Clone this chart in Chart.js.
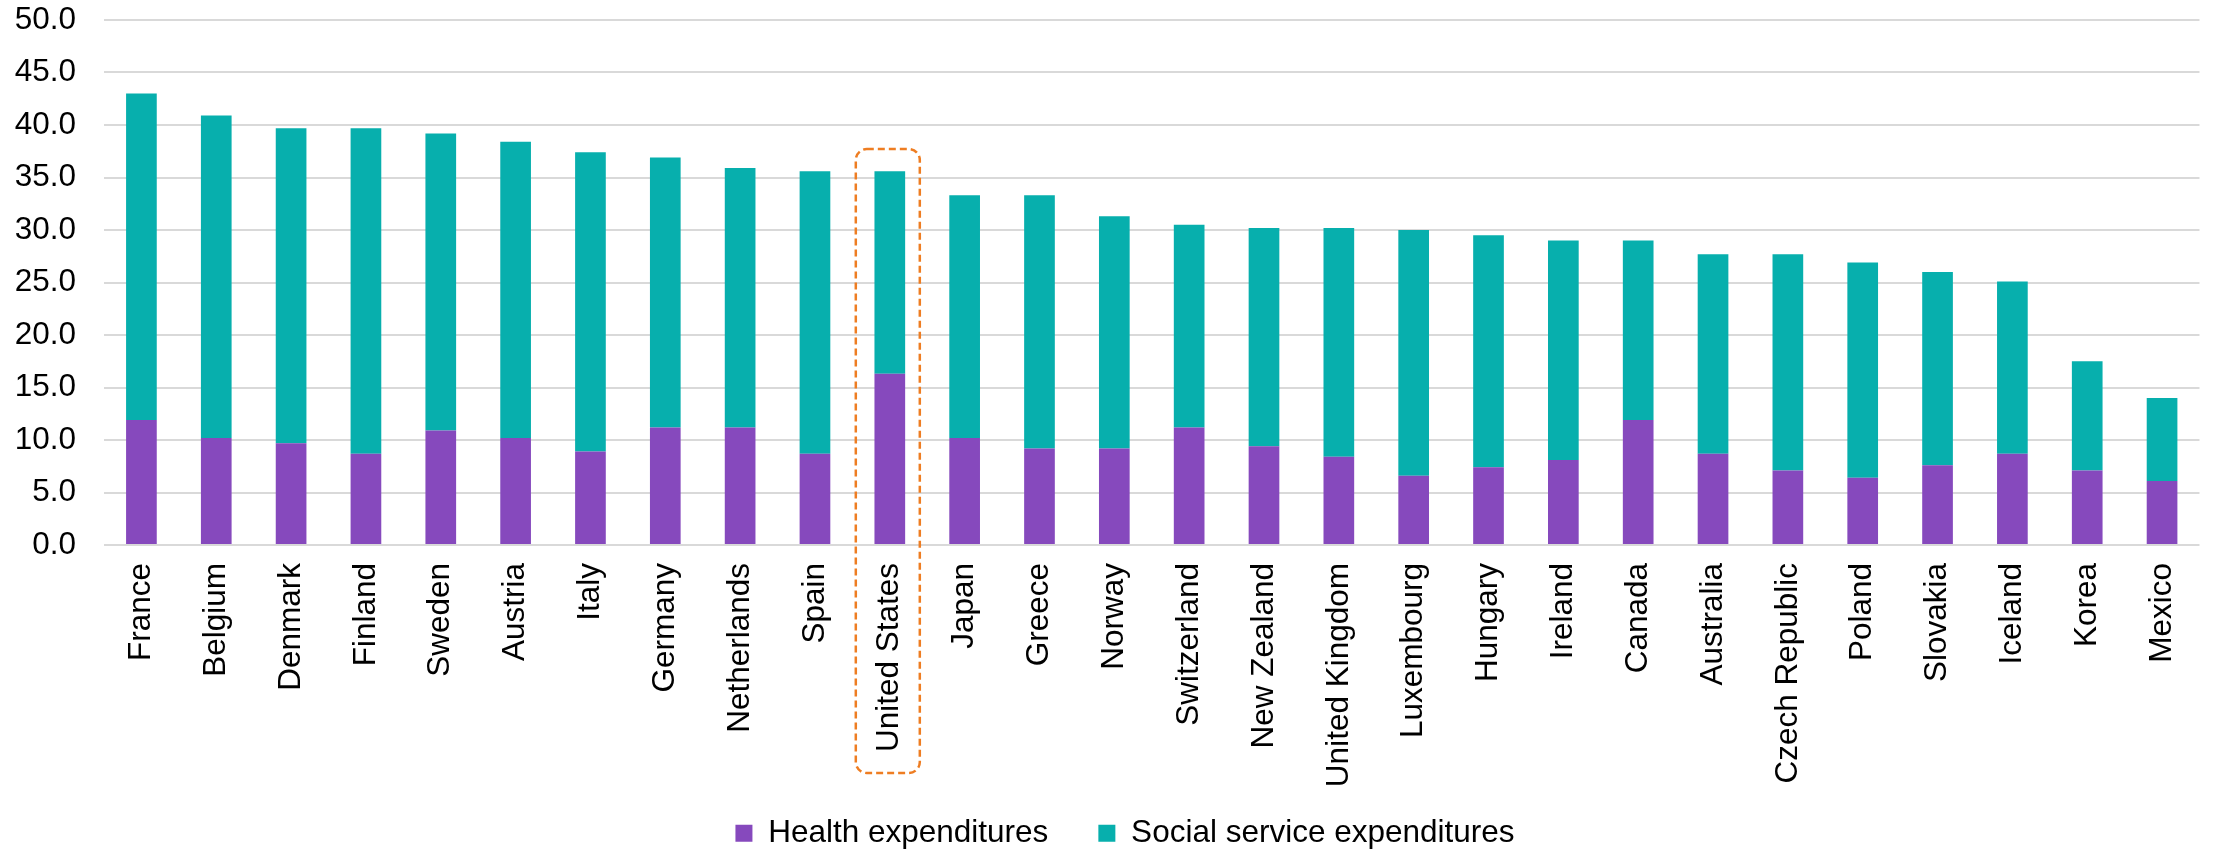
<!DOCTYPE html>
<html>
<head>
<meta charset="utf-8">
<script src="https://cdn.jsdelivr.net/npm/chart.js@4/dist/chart.umd.min.js"></script>
<style>
  html, body { margin: 0; padding: 0; background: #fff; overflow: hidden; }
  #wrap { width: 2218px; height: 853px; }
</style>
</head>
<body>
<div id="wrap"><canvas id="c" width="2218" height="853"></canvas></div>
<script>
const countries = ["France","Belgium","Denmark","Finland","Sweden","Austria","Italy","Germany","Netherlands","Spain","United States","Japan","Greece","Norway","Switzerland","New Zealand","United Kingdom","Luxembourg","Hungary","Ireland","Canada","Australia","Czech Republic","Poland","Slovakia","Iceland","Korea","Mexico"];
const healthExpenditures = [11.9,10.2,9.7,8.7,10.9,10.2,8.9,11.2,11.2,8.7,16.3,10.2,9.2,9.2,11.2,9.4,8.4,6.6,7.4,8.1,11.9,8.7,7.1,6.4,7.6,8.7,7.1,6.1];
const socialServiceExpenditures = [31.1,30.7,30.0,31.0,28.3,28.2,28.5,25.7,24.7,26.9,19.3,23.1,24.1,22.1,19.3,20.8,21.8,23.4,22.1,20.9,17.1,19.0,20.6,20.5,18.4,16.4,10.4,7.9];
const seriesNames = ["Health expenditures","Social service expenditures"];
const yTicks = [0,5,10,15,20,25,30,35,40,45,50];
const highlighted = "United States";

const FONT = "'Liberation Sans', Arial, sans-serif";

const highlightBox = {
  id: 'highlightBox',
  afterDatasetsDraw(chart) {
    const idx = countries.indexOf(highlighted);
    if (idx < 0) return;
    const x = chart.scales.x.getPixelForValue(idx) - 2;
    const ctx = chart.ctx;
    const left = x - 32, right = x + 32;
    const top = 149, bottom = 773, r = 11;
    ctx.save();
    ctx.strokeStyle = '#EE7D22';
    ctx.lineWidth = 2.5;
    ctx.setLineDash([7, 4]);
    ctx.beginPath();
    ctx.moveTo(left + r, top);
    ctx.lineTo(right - r, top);
    ctx.arcTo(right, top, right, top + r, r);
    ctx.lineTo(right, bottom - r);
    ctx.arcTo(right, bottom, right - r, bottom, r);
    ctx.lineTo(left + r, bottom);
    ctx.arcTo(left, bottom, left, bottom - r, r);
    ctx.lineTo(left, top + r);
    ctx.arcTo(left, top, left + r, top, r);
    ctx.closePath();
    ctx.stroke();
    ctx.restore();
  }
};

const legendShift = {
  id: 'legendShift',
  afterLayout(chart) {
    if (chart.legend) { chart.legend.left += 20; chart.legend.right += 20; }
  }
};

new Chart(document.getElementById('c'), {
  type: 'bar',
  data: {
    labels: countries,
    datasets: [
      { label: seriesNames[0], data: healthExpenditures, backgroundColor: '#8649BD', borderWidth: 0 },
      { label: seriesNames[1], data: socialServiceExpenditures, backgroundColor: '#07AFAD', borderWidth: 0 }
    ]
  },
  options: {
    responsive: false,
    animation: false,
    devicePixelRatio: 1,
    layout: { padding: { top: 20, right: 8, left: 0, bottom: -6 } },
    datasets: { bar: { barPercentage: 0.41, categoryPercentage: 1.0 } },
    plugins: {
      legend: {
        position: 'bottom',
        labels: {
          font: { family: FONT, size: 31.5 },
          color: '#000',
          boxWidth: 17,
          boxHeight: 17,
          padding: 50
        }
      },
      tooltip: { enabled: false }
    },
    scales: {
      x: {
        stacked: true,
        grid: { display: false, drawTicks: false },
        border: { display: false },
        ticks: {
          autoSkip: false,
          maxRotation: 90,
          minRotation: 90,
          padding: 18,
          color: '#000',
          font: { family: FONT, size: 31.5 }
        },
        afterFit(scale) {
          scale.height = 222.5;
          scale._computeLabelArea = () => undefined;
        }
      },
      y: {
        stacked: true,
        min: 0,
        max: 50,
        afterBuildTicks(scale) { scale.ticks = yTicks.map(v => ({ value: v })); },
        grid: { color: '#D9D9D9', lineWidth: 2, drawTicks: false },
        border: { display: false },
        ticks: {
          padding: 28,
          color: '#000',
          font: { family: FONT, size: 31.5 },
          callback: v => Number(v).toFixed(1)
        },
        afterFit(scale) { scale.width = 104; scale.paddingTop = 0; scale.paddingBottom = 0; }
      }
    }
  },
  plugins: [highlightBox, legendShift]
});
</script>
</body>
</html>
